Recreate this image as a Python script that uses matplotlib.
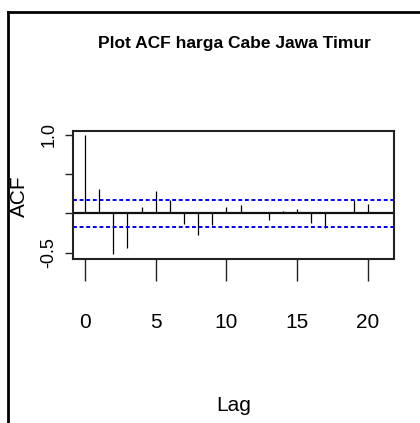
import matplotlib
matplotlib.use('Agg')
import matplotlib.pyplot as plt
from matplotlib.lines import Line2D

# ACF values, lag 0..21
lags = list(range(22))
acf_values = [1.0, 0.315, -0.52, -0.437, 0.075, 0.285, 0.17, -0.14,
              -0.276, -0.148, 0.077, 0.102, 0.004, -0.09, 0.024, 0.05,
              -0.12, -0.19, 0.003, 0.167, 0.125, 0.003]
conf_limit = 0.173
x_ticks = [0, 5, 10, 15, 20]
y_ticks = [-0.5, 0.0, 0.5, 1.0]
y_tick_labels = ['-0.5', '', '', '1.0']

plt.rcParams['font.family'] = ['Liberation Sans', 'DejaVu Sans']

W, H = 420, 423
fig = plt.figure(figsize=(W / 100, H / 100), dpi=100)
ax = fig.add_axes([73 / W, 1 - 259 / H, 321 / W, 128 / H])

# acf spikes + zero line + confidence bounds
ax.vlines(lags, 0, acf_values, color='black', lw=0.9)
ax.axhline(0, color='#111111', lw=1.6)
ax.axhline(conf_limit, color='#0000ff', lw=1.4, dashes=[2.0, 1.4])
ax.axhline(-conf_limit, color='#0000ff', lw=1.4, dashes=[2.0, 1.4])

ax.set_xlim(-0.84, 21.84)
ax.set_ylim(-0.58, 1.046)

ax.set_xticks(x_ticks)
ax.set_xticklabels([str(t) for t in x_ticks], fontsize=15)
ax.set_yticks(y_ticks)
ax.set_yticklabels(y_tick_labels, rotation=90, va='center', fontsize=13)
ax.tick_params(axis='x', length=16, width=1.0, pad=23, colors='#222222', labelcolor='black')
ax.tick_params(axis='y', length=6, width=1.0, pad=5, colors='#222222', labelcolor='black')

for s in ax.spines.values():
    s.set_linewidth(1.5)
    s.set_color('#222222')

# titles / labels
fig.text(234 / W, 1 - 48 / H, 'Plot ACF harga Cabe Jawa Timur', ha='center',
         va='baseline', fontsize=12.5, fontweight='bold')
fig.text(234 / W, 1 - 405 / H, 'Lag', ha='center', va='center', fontsize=15)
fig.text(19 / W, 1 - 196 / H, 'ACF', ha='center', va='center', rotation=90,
         fontsize=15)

# outer frame pieces from the cropped screenshot
fig.add_artist(Line2D([8 / W, 8 / W], [0, 1 - 12 / H], transform=fig.transFigure,
                      color='black', lw=2))
fig.add_artist(Line2D([8 / W, 1], [1 - 12 / H, 1 - 12 / H], transform=fig.transFigure,
                      color='black', lw=2))

fig.savefig('out.png', dpi=100)
